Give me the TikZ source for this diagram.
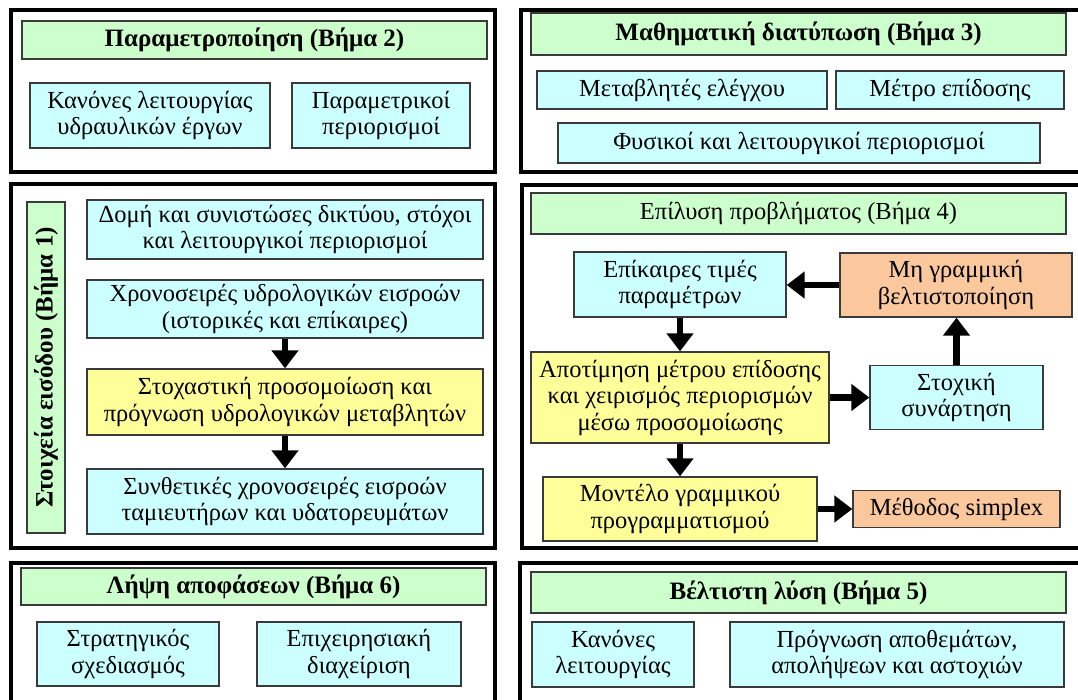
\documentclass[tikz,border=0pt]{standalone}
\usepackage{fontspec}
\setmainfont{Liberation Serif}
\usetikzlibrary{arrows.meta}
\definecolor{hdrgreen}{HTML}{CCFFCC}
\definecolor{boxcyan}{HTML}{CCFFFF}
\definecolor{boxyellow}{HTML}{FFFF99}
\definecolor{boxorange}{HTML}{FBC89E}
\definecolor{edgegray}{HTML}{3A3A3A}
\tikzset{
  panel/.style={draw=black, line width=4pt},
  basebox/.style={draw=edgegray, line width=1.3pt, inner sep=0pt, align=center,
    font=\fontsize{24.5}{26.5}\selectfont},
  hdr/.style={basebox, fill=hdrgreen, font=\fontsize{25}{27}\selectfont\bfseries},
  cyanbox/.style={basebox, fill=boxcyan},
  yellowbox/.style={basebox, fill=boxyellow},
  orangebox/.style={basebox, fill=boxorange},
  flow/.style={line width=6.5pt, -{Triangle[width=26pt,length=18pt]}},
  wh/.style 2 args={minimum width=#1pt, minimum height=#2pt}
}
\begin{document}
\begin{tikzpicture}[x=1pt, y=-1pt]
\useasboundingbox (0,0) rectangle (1078,699);
\clip (0,0) rectangle (1078,699);
\fill[white] (0,0) rectangle (1078,699);

% outer frames of the six stages
\draw[panel] (11,10) rectangle (495,172);
\draw[panel] (521,10) rectangle (1090,172);
\draw[panel] (11,184) rectangle (495,548);
\draw[panel] (522,185) rectangle (1090,548);
\draw[panel] (11,563) rectangle (495,720);
\draw[panel] (520,563) rectangle (1090,720);

% Step 2
\node[hdr, wh={465}{38}] (h2) at (254.5,40) {Παραμετροποίηση (Βήμα 2)};
\node[cyanbox, wh={240}{65}] (b21) at (150,115.5) {Κανόνες λειτουργίας\\υδραυλικών έργων};
\node[cyanbox, wh={178}{65}] (b22) at (381,115.5) {Παραμετρικοί\\περιορισμοί};

% Step 3
\node[hdr, wh={535}{42}] (h3) at (798.5,34) {Μαθηματική διατύπωση (Βήμα 3)};
\node[cyanbox, wh={290}{38}] (b31) at (682,90) {Μεταβλητές ελέγχου};
\node[cyanbox, wh={228}{38}] (b32) at (950,90) {Μέτρο επίδοσης};
\node[cyanbox, wh={482}{40}] (b33) at (799,143) {Φυσικοί και λειτουργικοί περιορισμοί};

% Step 1
\node[hdr, wh={331}{38}, rotate=90] (h1) at (46,367.5) {Στοιχεία εισόδου (Βήμα 1)};
\node[cyanbox, wh={396}{59}] (b11) at (285,229.5) {Δομή και συνιστώσες δικτύου, στόχοι\\και λειτουργικοί περιορισμοί};
\node[cyanbox, wh={396}{58}] (b12) at (285,309) {Χρονοσειρές υδρολογικών εισροών\\(ιστορικές και επίκαιρες)};
\node[yellowbox, wh={396}{66}] (b13) at (285,402) {Στοχαστική προσομοίωση και\\πρόγνωση υδρολογικών μεταβλητών};
\node[cyanbox, wh={396}{65}] (b14) at (285,501.5) {Συνθετικές χρονοσειρές εισροών\\ταμιευτήρων και υδατορευμάτων};
\draw[flow] (b12.south) -- (b13.north);
\draw[flow] (b13.south) -- (b14.north);

% Step 4
\node[hdr, wh={535}{41}, font=\fontsize{24.5}{26.5}\selectfont] (h4) at (798.5,213.5) {Επίλυση προβλήματος (Βήμα 4)};
\node[cyanbox, wh={212}{65}] (b41) at (680,284.5) {Επίκαιρες τιμές\\παραμέτρων};
\node[orangebox, wh={232}{64}] (b42) at (956,285) {Μη γραμμική\\βελτιστοποίηση};
\node[yellowbox, wh={298}{91}] (b43) at (680,397.5) {Αποτίμηση μέτρου επίδοσης\\και χειρισμός περιορισμών\\μέσω προσομοίωσης};
\node[cyanbox, wh={173}{64}] (b44) at (956.5,397.5) {Στοχική\\συνάρτηση};
\node[yellowbox, wh={274}{64}] (b45) at (680,509) {Μοντέλο γραμμικού\\προγραμματισμού};
\node[orangebox, wh={207}{37}] (b46) at (956.5,509) {Μέθοδος simplex};
\draw[flow] (b42.west) -- (b42.west -| b41.east);
\draw[flow] (b41.south) -- (b43.north);
\draw[flow] (b43.east) -- (b43.east -| b44.west);
\draw[flow] (b44.north) -- (b44.north |- b42.south);
\draw[flow] (b43.south) -- (b45.north);
\draw[flow] (b45.east) -- (b45.east -| b46.west);

% Step 6
\node[hdr, wh={465}{37}] (h6) at (253.5,586.5) {Λήψη αποφάσεων (Βήμα 6)};
\node[cyanbox, wh={182}{64}] (b61) at (128,654) {Στρατηγικός\\σχεδιασμός};
\node[cyanbox, wh={204}{64}] (b62) at (359,654) {Επιχειρησιακή\\διαχείριση};

% Step 5
\node[hdr, wh={535}{41}] (h5) at (798.5,592.5) {Βέλτιστη λύση (Βήμα 5)};
\node[cyanbox, wh={162}{65}] (b51) at (613,654.5) {Κανόνες\\λειτουργίας};
\node[cyanbox, wh={334}{65}] (b52) at (897,654.5) {Πρόγνωση αποθεμάτων,\\απολήψεων και αστοχιών};
\end{tikzpicture}
\end{document}
